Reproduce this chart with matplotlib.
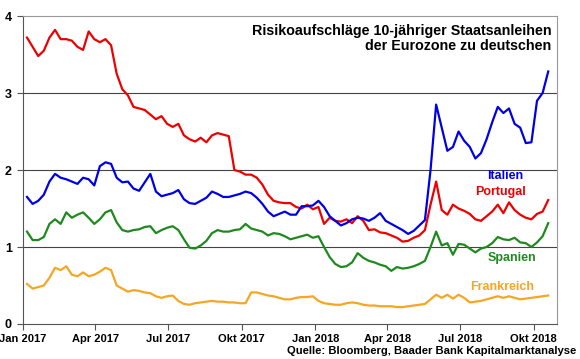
import matplotlib
matplotlib.use("Agg")
import matplotlib.pyplot as plt
import pandas as pd

plt.rcParams['font.family'] = ['Liberation Sans', 'DejaVu Sans']
plt.rcParams['font.weight'] = 'bold'

# weekly closes (Fridays), Jan 2017 - Oct 2018, spread vs. Bund in %-points
dates = pd.date_range('2017-01-06', '2018-10-19', freq='W-FRI')

italien = [1.65, 1.56, 1.60, 1.68, 1.85, 1.95, 1.90, 1.88, 1.85, 1.82,
           1.90, 1.88, 1.80, 2.05, 2.10, 2.08, 1.90, 1.84, 1.85, 1.76,
           1.73, 1.84, 1.95, 1.72, 1.66, 1.68, 1.70, 1.74, 1.62, 1.57,
           1.56, 1.60, 1.64, 1.72, 1.69, 1.65, 1.65, 1.67, 1.69, 1.72,
           1.70, 1.64, 1.56, 1.46, 1.40, 1.43, 1.46, 1.42, 1.42, 1.53,
           1.53, 1.54, 1.60, 1.52, 1.40, 1.34, 1.28, 1.31, 1.36, 1.38,
           1.37, 1.34, 1.38, 1.44, 1.34, 1.30, 1.26, 1.22, 1.17, 1.21,
           1.28, 1.35, 2.00, 2.85, 2.55, 2.25, 2.30, 2.50, 2.38, 2.30,
           2.15, 2.22, 2.40, 2.62, 2.82, 2.74, 2.80, 2.60, 2.55, 2.35,
           2.36, 2.90, 3.00, 3.28]

portugal = [3.72, 3.60, 3.48, 3.55, 3.72, 3.82, 3.70, 3.70, 3.68, 3.60,
            3.56, 3.80, 3.70, 3.66, 3.70, 3.62, 3.25, 3.05, 2.97, 2.82,
            2.80, 2.78, 2.72, 2.66, 2.70, 2.60, 2.56, 2.60, 2.45, 2.40,
            2.37, 2.42, 2.36, 2.45, 2.48, 2.46, 2.44, 2.00, 1.98, 1.94,
            1.94, 1.90, 1.81, 1.68, 1.60, 1.58, 1.57, 1.57, 1.52, 1.50,
            1.55, 1.49, 1.52, 1.30, 1.38, 1.34, 1.33, 1.36, 1.31, 1.40,
            1.34, 1.22, 1.23, 1.19, 1.18, 1.15, 1.12, 1.07, 1.08, 1.12,
            1.15, 1.22, 1.55, 1.85, 1.48, 1.42, 1.55, 1.50, 1.47, 1.43,
            1.36, 1.34, 1.40, 1.46, 1.55, 1.44, 1.58, 1.48, 1.42, 1.38,
            1.36, 1.43, 1.46, 1.61]

spanien = [1.20, 1.09, 1.09, 1.13, 1.30, 1.36, 1.30, 1.45, 1.38, 1.42,
           1.45, 1.38, 1.30, 1.36, 1.45, 1.48, 1.32, 1.22, 1.20, 1.22,
           1.23, 1.26, 1.27, 1.18, 1.22, 1.25, 1.27, 1.22, 1.10, 0.99,
           0.98, 1.02, 1.08, 1.18, 1.22, 1.20, 1.20, 1.22, 1.23, 1.30,
           1.24, 1.22, 1.20, 1.15, 1.18, 1.17, 1.14, 1.10, 1.12, 1.14,
           1.16, 1.12, 1.14, 1.00, 0.87, 0.78, 0.74, 0.75, 0.80, 0.92,
           0.86, 0.82, 0.80, 0.77, 0.75, 0.69, 0.74, 0.72, 0.73, 0.75,
           0.78, 0.82, 1.00, 1.20, 1.02, 1.05, 0.90, 1.04, 1.03, 0.98,
           0.93, 0.98, 1.00, 1.05, 1.13, 1.10, 1.09, 1.12, 1.06, 1.05,
           1.00, 1.06, 1.14, 1.31]

frankreich = [0.52, 0.46, 0.48, 0.50, 0.60, 0.73, 0.70, 0.75, 0.64, 0.62,
              0.67, 0.62, 0.64, 0.68, 0.73, 0.70, 0.50, 0.46, 0.42, 0.44,
              0.43, 0.41, 0.40, 0.36, 0.34, 0.36, 0.37, 0.30, 0.26, 0.25,
              0.27, 0.28, 0.29, 0.30, 0.29, 0.29, 0.28, 0.28, 0.27, 0.27,
              0.41, 0.41, 0.39, 0.37, 0.36, 0.34, 0.32, 0.32, 0.34, 0.35,
              0.35, 0.36, 0.30, 0.27, 0.26, 0.25, 0.25, 0.27, 0.28, 0.27,
              0.25, 0.24, 0.24, 0.23, 0.23, 0.23, 0.22, 0.22, 0.23, 0.24,
              0.25, 0.26, 0.32, 0.38, 0.34, 0.38, 0.33, 0.38, 0.34, 0.28,
              0.29, 0.30, 0.32, 0.34, 0.36, 0.34, 0.36, 0.34, 0.32, 0.33,
              0.34, 0.35, 0.36, 0.37]

tick_dates = pd.to_datetime(['2017-01-01', '2017-04-01', '2017-07-01', '2017-10-01',
                             '2018-01-01', '2018-04-01', '2018-07-01', '2018-10-01'])
tick_labels = ['Jan 2017', 'Apr 2017', 'Jul 2017', 'Okt 2017',
               'Jan 2018', 'Apr 2018', 'Jul 2018', 'Okt 2018']

c_it, c_pt, c_es, c_fr = '#0000e6', '#ee0000', '#1e8a1e', '#f5a623'

fig = plt.figure(figsize=(5.8, 3.59), dpi=100)
ax = fig.add_axes([0.0397, 0.0975, 0.9207, 0.8578])

for y in [1, 2, 3]:
    ax.axhline(y, color='#444444', lw=0.8, zorder=1)

ax.plot(dates, frankreich, color=c_fr, lw=1.6, zorder=2)
ax.plot(dates, spanien, color=c_es, lw=1.6, zorder=3)
ax.plot(dates, portugal, color=c_pt, lw=1.6, zorder=4)
ax.plot(dates, italien, color=c_it, lw=1.6, zorder=5)

ax.set_xlim(pd.Timestamp('2017-01-01'), pd.Timestamp('2018-10-30'))
ax.set_ylim(0, 4)
ax.set_yticks([0, 1, 2, 3, 4])
ax.set_xticks(tick_dates)
ax.set_xticklabels(tick_labels)
ax.tick_params(axis='both', direction='out', length=4, width=0.8,
               color='#555555', labelsize=8)
ax.tick_params(axis='y', pad=4, labelsize=9)

for s in ['left', 'bottom']:
    ax.spines[s].set_color('#555555')
for s in ['top', 'right']:
    ax.spines[s].set_color('#999999')

ax.text(0.99, 0.975, 'Risikoaufschläge 10-jähriger Staatsanleihen\nder Eurozone zu deutschen',
        transform=ax.transAxes, ha='right', va='top', fontsize=10.3,
        fontweight='bold', linespacing=1.1)

ax.text(0.903, 0.48, 'Italien', transform=ax.transAxes, ha='center', va='center',
        color=c_it, fontsize=9, fontweight='bold')
ax.text(0.894, 0.43, 'Portugal', transform=ax.transAxes, ha='center', va='center',
        color=c_pt, fontsize=9, fontweight='bold')
ax.text(0.916, 0.213, 'Spanien', transform=ax.transAxes, ha='center', va='center',
        color=c_es, fontsize=9, fontweight='bold')
ax.text(0.897, 0.119, 'Frankreich', transform=ax.transAxes, ha='center', va='center',
        color=c_fr, fontsize=9, fontweight='bold')

fig.text(0.993, 0.022, 'Quelle: Bloomberg, Baader Bank Kapitalmarktanalyse',
         ha='right', va='center', fontsize=8.1, fontweight='bold')

fig.savefig('out.png', dpi=100)
